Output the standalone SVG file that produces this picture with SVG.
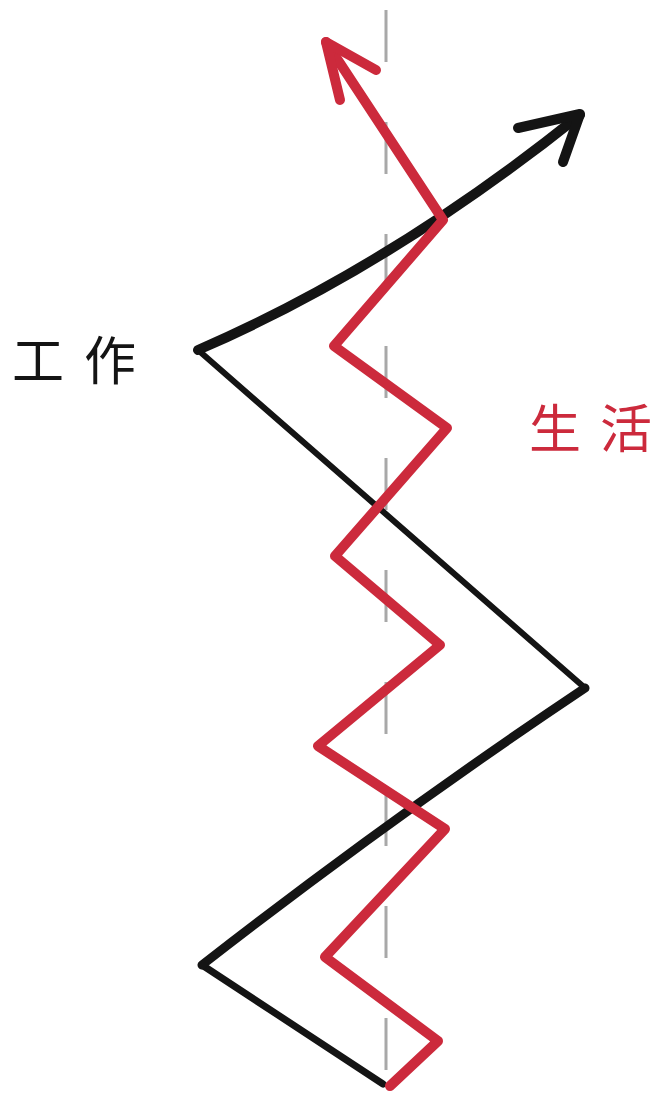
<svg xmlns="http://www.w3.org/2000/svg" width="659" height="1095" viewBox="0 0 659 1095">
<style>
.axis{stroke:#a8a8a8;stroke-width:3;stroke-dasharray:52 60;fill:none}
.work{stroke:#141414;fill:none;stroke-linecap:round;stroke-linejoin:round}
.life{stroke:#cc2a3c;fill:none;stroke-width:10;stroke-linecap:round;stroke-linejoin:round}
.lbl{font-family:"Noto Sans CJK SC","Noto Sans CJK JP",sans-serif;font-size:52px}
</style>
<rect width="659" height="1095" fill="#ffffff"/>
<g id="axis">
<line class="axis" x1="386" y1="10" x2="386" y2="1090"/>
</g>
<g id="connectors">
<path id="work-line" class="work" stroke-width="7" d="M383 1084 L202 965"/>
<path class="work" stroke-width="9" d="M202 965 Q395 815 585 688"/>
<path class="work" stroke-width="6" d="M585 688 L198 350"/>
<path class="work" stroke-width="10" d="M198 350 Q390 267 580 115"/>
<path class="work" stroke-width="10" d="M518 128 L580 114 L563 162"/>
<path id="life-line" class="life" d="M390 1086 L438 1041 L325 957 L445 829 L318 746 L440 645 L335 556 L447 428 L334 346 L443 220 L326 42"/>
<path class="life" d="M376 70 L326 42 L340 100"/>
</g>
<g id="label-work">
<text class="lbl" y="380" fill="#141414"><tspan x="12">工</tspan><tspan x="84">作</tspan></text>
</g>
<g id="label-life">
<text class="lbl" y="448" fill="#cc2a3c"><tspan x="529">生</tspan><tspan x="600">活</tspan></text>
</g>
</svg>
